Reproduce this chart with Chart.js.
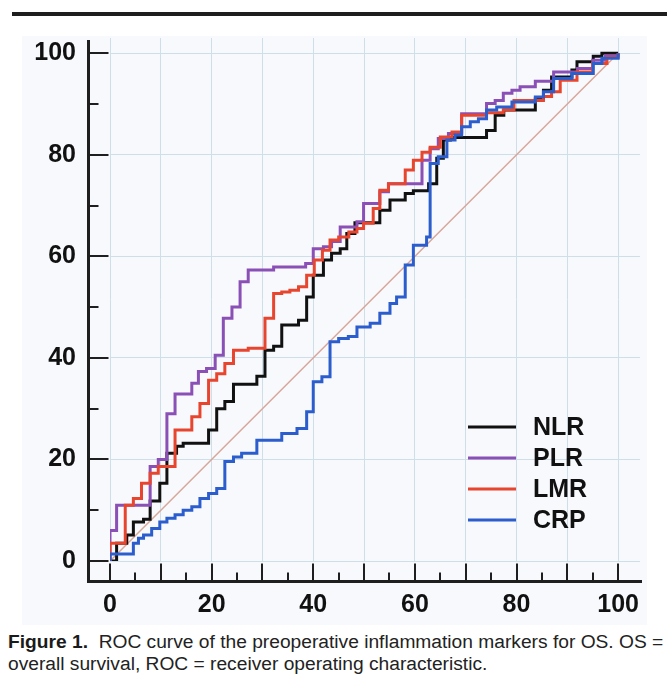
<!DOCTYPE html>
<html><head><meta charset="utf-8">
<script src="https://cdn.jsdelivr.net/npm/chart.js@4.4.0/dist/chart.umd.min.js"></script>
<style>
html,body{margin:0;padding:0;background:#fff;width:667px;height:688px;overflow:hidden;}
#wrap{position:absolute;left:0;top:0;width:667px;height:625px;}
#rule{position:absolute;left:12px;top:12px;width:655px;height:4px;background:#1e1e1e;}
#cap{position:absolute;left:8px;top:631px;font-family:"Liberation Sans",Arial,sans-serif;font-size:19.2px;line-height:22px;color:#222;white-space:nowrap;}
#cap b{color:#1a1a1a;}
</style></head><body>
<div id="wrap"><canvas id="c" width="667" height="625"></canvas></div>
<div id="rule"></div>
<div id="cap"><b>Figure 1.</b>&nbsp; ROC curve of the preoperative inflammation markers for OS. OS =<br>overall survival, ROC = receiver operating characteristic.</div>
<script>
// ---- data (1 - specificity, sensitivity), step risers ----
const seriesNames = ["NLR", "PLR", "LMR", "CRP"];
const xTickLabels = [0, 20, 40, 60, 80, 100];
const yTickLabels = [0, 20, 40, 60, 80, 100];

const nlrX = [0,1.3,3.3,4.6,6.6,7.9,9.8,11.2,13.1,14.4,19.4,21.0,22.6,24.3,28.9,30.5,32.2,33.8,37.1,38.7,40.0,42.0,43.6,45.3,46.6,48.2,53.1,55.1,58.1,59.7,62.7,64.3,65.6,67.0,74.1,75.8,77.5,83.7,85.3,86.9,90.9,91.9,95.1,96.8,100];
const nlrY = [0,3.5,5.1,7.7,8.2,11.8,15.3,21.2,22.6,23.2,25.8,30.0,31.4,34.8,36.4,41.5,42.3,46.5,47.4,52.0,56.3,59.3,60.6,61.5,64.5,66.6,69.1,71.1,72.4,72.9,74.3,79.3,82.9,83.4,84.8,87.8,88.8,91.0,92.7,95.3,96.7,98.3,99.4,100,100];

const plrX = [0,0,1.3,7.9,9.5,11.2,12.8,16.1,17.4,19.0,20.7,22.3,24.0,25.6,27.2,32.2,38.5,40.0,42.0,43.6,45.3,48.6,49.9,53.1,54.8,61.4,63.0,64.6,66.6,69.2,74.1,75.8,77.4,79.1,80.7,83.7,87.3,92.0,95.0,97.5,100];
const plrY = [0,6,11,18.6,20,29,32.9,35,37.3,37.9,40.5,47.8,50,55,57.3,57.9,58.6,61.5,61.9,62.9,65.8,66.8,70.4,72.7,74.3,78.9,81.2,83.2,84.2,88.1,90.1,90.7,92.1,92.7,93.4,94.5,96.3,97,98.6,99.5,100];

const lmrX = [0,0,3.0,4.6,6.2,7.9,9.5,12.8,16.1,17.7,19.4,21.0,22.6,24.3,27.2,30.5,32.2,33.8,35.4,37.1,38.7,40.2,41.8,43.3,45.0,47.0,48.6,49.9,51.8,53.1,54.8,58.1,59.7,61.4,63.0,65.0,67.3,69.2,74.1,77.4,79.5,85.3,86.9,88.6,91.9,95.0,97.8,100];
const lmrY = [0,3.5,11,12.3,15.3,17.3,18.6,25.8,28.4,31,35.6,36.9,38.9,41.5,41.9,47.8,52.7,53,53.3,54,56.3,59.3,61.2,63.2,63.8,64.8,65.5,66.5,69.4,73,74.3,77,78.9,80.5,81.5,83.5,84.5,87.8,88.3,88.8,90.7,91.5,92.4,94.7,96.3,98,99.2,100];

const crpX = [0,0,4.6,5.6,6.6,8.2,9.8,11.2,12.8,14.4,16.1,17.7,19.4,21.0,22.6,24.3,25.9,28.9,33.8,36.8,38.7,40.0,41.7,43.3,45.0,46.9,48.6,51.2,53.1,55.1,56.4,58.1,59.7,62.3,63.0,64.6,66.3,67.9,69.2,70.9,72.5,74.1,76.1,79.1,83.7,85.3,87.3,90.9,95.1,96.8,100];
const crpY = [0,1.4,3.5,4.5,5.1,6.4,7.7,8.4,9.1,10,10.7,12.3,13.3,14.3,19.6,20.5,21.2,23.8,25.1,26.1,29.4,35.3,36.3,43.2,43.8,44.2,46.1,46.8,48.8,50.7,52,58.3,62.2,63.8,78.3,79.6,82.9,83.9,85.5,86.5,87.1,88.8,89.4,90.4,91.4,92.4,95,96,98,99,100];

const refX = [0, 100];
const refY = [0, 100];

// ---- build ----
const toPts = (xs, ys) => xs.map((x, i) => ({x, y: ys[i]}));
const colors = ["#111111", "#8a50b6", "#e8452f", "#2c5dcd"];
const curves = [[nlrX,nlrY],[plrX,plrY],[lmrX,lmrY],[crpX,crpY]];
const drawOrder = [4,3,2,1];

const datasets = curves.map((c, i) => ({
  label: seriesNames[i],
  data: toPts(c[0], c[1]),
  showLine: true,
  stepped: 'before',
  borderColor: colors[i],
  backgroundColor: colors[i],
  borderWidth: 3,
  pointRadius: 0,
  fill: false,
  order: drawOrder[i]
}));
datasets.push({
  label: 'ref',
  data: toPts(refX, refY),
  showLine: true,
  borderColor: '#d9a79a',
  borderWidth: 1.5,
  pointRadius: 0,
  fill: false,
  order: 5
});

const FONT = '"Liberation Sans", Arial, sans-serif';

const panelPlugin = {
  id: 'panel',
  beforeDraw(chart) {
    const ctx = chart.ctx;
    ctx.save();
    ctx.fillStyle = '#f7f9fc';
    ctx.fillRect(22, 36, 625, 589);
    ctx.restore();
  }
};

const axesPlugin = {
  id: 'axesDraw',
  afterDraw(chart) {
    const {ctx, chartArea: ca, scales: {x, y}} = chart;
    const ax = ca.left - 21.5, ay = ca.bottom + 20.5;
    ctx.save();
    ctx.strokeStyle = '#1f1f1f';
    ctx.lineCap = 'butt';
    ctx.lineWidth = 3;
    ctx.beginPath();
    ctx.moveTo(ax, ca.top + 2);
    ctx.lineTo(ax, ay + 1.5);
    ctx.moveTo(ax - 1.5, ay);
    ctx.lineTo(ca.right + 2, ay);
    ctx.stroke();
    ctx.lineWidth = 2;
    ctx.beginPath();
    for (let v = 0; v <= 100; v += 10) {
      const py = Math.round(y.getPixelForValue(v));
      const len = v % 20 === 0 ? 20 : 10;
      ctx.moveTo(ax, py);
      ctx.lineTo(ax + len, py);
    }
    for (let v = 0; v <= 100; v += 5) {
      const px = Math.round(x.getPixelForValue(v));
      const len = v % 10 === 0 ? 18 : 9;
      ctx.moveTo(px, ay);
      ctx.lineTo(px, ay - len);
    }
    ctx.stroke();
    ctx.restore();
  }
};

const legendPlugin = {
  id: 'customLegend',
  afterDraw(chart) {
    const ctx = chart.ctx;
    ctx.save();
    const x0 = 468, x1 = 516, tx = 533, y0 = 427, dy = 31;
    seriesNames.forEach((n, i) => {
      const yy = y0 + i * dy;
      ctx.strokeStyle = colors[i];
      ctx.lineWidth = 3;
      ctx.beginPath();
      ctx.moveTo(x0, yy);
      ctx.lineTo(x1, yy);
      ctx.stroke();
      ctx.fillStyle = '#111';
      ctx.font = 'bold 25px ' + FONT;
      ctx.textBaseline = 'middle';
      ctx.textAlign = 'left';
      ctx.fillText(n, tx, yy + 1);
    });
    ctx.restore();
  }
};

new Chart(document.getElementById('c'), {
  type: 'scatter',
  data: { datasets },
  options: {
    responsive: false,
    animation: false,
    devicePixelRatio: 1,
    layout: { padding: { left: 0, right: 27, top: 38, bottom: 0 } },
    plugins: { legend: { display: false }, tooltip: { enabled: false } },
    scales: {
      x: {
        type: 'linear', min: 0, max: 104.3,
        afterBuildTicks: s => { const t = []; for (let v = 0; v <= 100; v += 10) t.push({value: v}); s.ticks = t; },
        afterFit: s => { s.height = 64; s.paddingLeft = 0; s.paddingRight = 0; },
        grid: { color: '#cfdfea', lineWidth: 1, drawTicks: false },
        border: { display: false },
        ticks: {
          autoSkip: false, maxRotation: 0, padding: 29,
          color: '#111', font: { family: FONT, size: 25, weight: 'bold' },
          callback: v => xTickLabels.includes(v) ? String(v) : ''
        }
      },
      y: {
        type: 'linear', min: 0, max: 103,
        afterBuildTicks: s => { s.ticks = yTickLabels.map(v => ({value: v})); },
        afterFit: s => { s.width = 110; s.paddingTop = 0; s.paddingBottom = 0; },
        grid: { color: '#cfdfea', lineWidth: 1, drawTicks: false },
        border: { display: false },
        ticks: {
          autoSkip: false, padding: 34,
          color: '#111', font: { family: FONT, size: 25, weight: 'bold' },
          callback: v => String(v)
        }
      }
    }
  },
  plugins: [panelPlugin, axesPlugin, legendPlugin]
});
</script>
</body></html>
